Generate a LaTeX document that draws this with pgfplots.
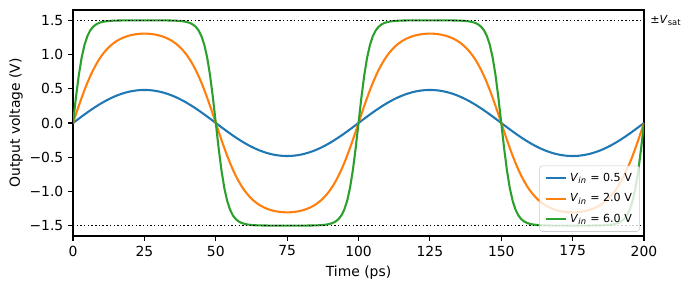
\documentclass[border=0pt]{standalone}
\usepackage{fontspec}
\setmainfont{DejaVu Sans}
\usepackage{pgfplots}
\usepackage{pgfplotstable}
\pgfplotsset{compat=1.18}

\definecolor{tabblue}{HTML}{1F77B4}
\definecolor{taborange}{HTML}{FF7F0E}
\definecolor{tabgreen}{HTML}{2CA02C}

% Output of the saturating stage, sampled every 1 ps
% columns: time (ps), output for Vin = 0.5 V, 2.0 V, 6.0 V
\pgfplotstableread{
t vb vo vg
0 0 0 0
1 0.0314 0.1253 0.3690
2 0.0626 0.2484 0.6947
3 0.0936 0.3672 0.9523
4 0.1241 0.4800 1.1391
5 0.1540 0.5853 1.2665
6 0.1832 0.6823 1.3501
7 0.2115 0.7705 1.4037
8 0.2388 0.8497 1.4377
9 0.2651 0.9202 1.4593
10 0.2902 0.9823 1.4730
11 0.3140 1.0365 1.4818
12 0.3365 1.0837 1.4875
13 0.3575 1.1243 1.4912
14 0.3770 1.1593 1.4937
15 0.3950 1.1895 1.4954
16 0.4114 1.2144 1.4965
17 0.4261 1.2356 1.4973
18 0.4392 1.2534 1.4978
19 0.4506 1.2681 1.4982
20 0.4602 1.2799 1.4985
21 0.4681 1.2893 1.4987
22 0.4743 1.2962 1.4988
23 0.4787 1.3011 1.4989
24 0.4814 1.3041 1.4990
25 0.4823 1.3051 1.4990
26 0.4814 1.3041 1.4990
27 0.4787 1.3011 1.4989
28 0.4743 1.2962 1.4988
29 0.4681 1.2893 1.4987
30 0.4602 1.2799 1.4985
31 0.4506 1.2681 1.4982
32 0.4392 1.2534 1.4978
33 0.4261 1.2356 1.4973
34 0.4114 1.2144 1.4965
35 0.3950 1.1895 1.4954
36 0.3770 1.1593 1.4937
37 0.3575 1.1243 1.4912
38 0.3365 1.0837 1.4875
39 0.3140 1.0365 1.4818
40 0.2902 0.9823 1.4730
41 0.2651 0.9202 1.4593
42 0.2388 0.8497 1.4377
43 0.2115 0.7705 1.4037
44 0.1832 0.6823 1.3501
45 0.1540 0.5853 1.2665
46 0.1241 0.4800 1.1391
47 0.0936 0.3672 0.9523
48 0.0626 0.2484 0.6947
49 0.0314 0.1253 0.3690
50 0 0 0
51 -0.0314 -0.1253 -0.3690
52 -0.0626 -0.2484 -0.6947
53 -0.0936 -0.3672 -0.9523
54 -0.1241 -0.4800 -1.1391
55 -0.1540 -0.5853 -1.2665
56 -0.1832 -0.6823 -1.3501
57 -0.2115 -0.7705 -1.4037
58 -0.2388 -0.8497 -1.4377
59 -0.2651 -0.9202 -1.4593
60 -0.2902 -0.9823 -1.4730
61 -0.3140 -1.0365 -1.4818
62 -0.3365 -1.0837 -1.4875
63 -0.3575 -1.1243 -1.4912
64 -0.3770 -1.1593 -1.4937
65 -0.3950 -1.1895 -1.4954
66 -0.4114 -1.2144 -1.4965
67 -0.4261 -1.2356 -1.4973
68 -0.4392 -1.2534 -1.4978
69 -0.4506 -1.2681 -1.4982
70 -0.4602 -1.2799 -1.4985
71 -0.4681 -1.2893 -1.4987
72 -0.4743 -1.2962 -1.4988
73 -0.4787 -1.3011 -1.4989
74 -0.4814 -1.3041 -1.4990
75 -0.4823 -1.3051 -1.4990
76 -0.4814 -1.3041 -1.4990
77 -0.4787 -1.3011 -1.4989
78 -0.4743 -1.2962 -1.4988
79 -0.4681 -1.2893 -1.4987
80 -0.4602 -1.2799 -1.4985
81 -0.4506 -1.2681 -1.4982
82 -0.4392 -1.2534 -1.4978
83 -0.4261 -1.2356 -1.4973
84 -0.4114 -1.2144 -1.4965
85 -0.3950 -1.1895 -1.4954
86 -0.3770 -1.1593 -1.4937
87 -0.3575 -1.1243 -1.4912
88 -0.3365 -1.0837 -1.4875
89 -0.3140 -1.0365 -1.4818
90 -0.2902 -0.9823 -1.4730
91 -0.2651 -0.9202 -1.4593
92 -0.2388 -0.8497 -1.4377
93 -0.2115 -0.7705 -1.4037
94 -0.1832 -0.6823 -1.3501
95 -0.1540 -0.5853 -1.2665
96 -0.1241 -0.4800 -1.1391
97 -0.0936 -0.3672 -0.9523
98 -0.0626 -0.2484 -0.6947
99 -0.0314 -0.1253 -0.3690
100 0 0 0
101 0.0314 0.1253 0.3690
102 0.0626 0.2484 0.6947
103 0.0936 0.3672 0.9523
104 0.1241 0.4800 1.1391
105 0.1540 0.5853 1.2665
106 0.1832 0.6823 1.3501
107 0.2115 0.7705 1.4037
108 0.2388 0.8497 1.4377
109 0.2651 0.9202 1.4593
110 0.2902 0.9823 1.4730
111 0.3140 1.0365 1.4818
112 0.3365 1.0837 1.4875
113 0.3575 1.1243 1.4912
114 0.3770 1.1593 1.4937
115 0.3950 1.1895 1.4954
116 0.4114 1.2144 1.4965
117 0.4261 1.2356 1.4973
118 0.4392 1.2534 1.4978
119 0.4506 1.2681 1.4982
120 0.4602 1.2799 1.4985
121 0.4681 1.2893 1.4987
122 0.4743 1.2962 1.4988
123 0.4787 1.3011 1.4989
124 0.4814 1.3041 1.4990
125 0.4823 1.3051 1.4990
126 0.4814 1.3041 1.4990
127 0.4787 1.3011 1.4989
128 0.4743 1.2962 1.4988
129 0.4681 1.2893 1.4987
130 0.4602 1.2799 1.4985
131 0.4506 1.2681 1.4982
132 0.4392 1.2534 1.4978
133 0.4261 1.2356 1.4973
134 0.4114 1.2144 1.4965
135 0.3950 1.1895 1.4954
136 0.3770 1.1593 1.4937
137 0.3575 1.1243 1.4912
138 0.3365 1.0837 1.4875
139 0.3140 1.0365 1.4818
140 0.2902 0.9823 1.4730
141 0.2651 0.9202 1.4593
142 0.2388 0.8497 1.4377
143 0.2115 0.7705 1.4037
144 0.1832 0.6823 1.3501
145 0.1540 0.5853 1.2665
146 0.1241 0.4800 1.1391
147 0.0936 0.3672 0.9523
148 0.0626 0.2484 0.6947
149 0.0314 0.1253 0.3690
150 0 0 0
151 -0.0314 -0.1253 -0.3690
152 -0.0626 -0.2484 -0.6947
153 -0.0936 -0.3672 -0.9523
154 -0.1241 -0.4800 -1.1391
155 -0.1540 -0.5853 -1.2665
156 -0.1832 -0.6823 -1.3501
157 -0.2115 -0.7705 -1.4037
158 -0.2388 -0.8497 -1.4377
159 -0.2651 -0.9202 -1.4593
160 -0.2902 -0.9823 -1.4730
161 -0.3140 -1.0365 -1.4818
162 -0.3365 -1.0837 -1.4875
163 -0.3575 -1.1243 -1.4912
164 -0.3770 -1.1593 -1.4937
165 -0.3950 -1.1895 -1.4954
166 -0.4114 -1.2144 -1.4965
167 -0.4261 -1.2356 -1.4973
168 -0.4392 -1.2534 -1.4978
169 -0.4506 -1.2681 -1.4982
170 -0.4602 -1.2799 -1.4985
171 -0.4681 -1.2893 -1.4987
172 -0.4743 -1.2962 -1.4988
173 -0.4787 -1.3011 -1.4989
174 -0.4814 -1.3041 -1.4990
175 -0.4823 -1.3051 -1.4990
176 -0.4814 -1.3041 -1.4990
177 -0.4787 -1.3011 -1.4989
178 -0.4743 -1.2962 -1.4988
179 -0.4681 -1.2893 -1.4987
180 -0.4602 -1.2799 -1.4985
181 -0.4506 -1.2681 -1.4982
182 -0.4392 -1.2534 -1.4978
183 -0.4261 -1.2356 -1.4973
184 -0.4114 -1.2144 -1.4965
185 -0.3950 -1.1895 -1.4954
186 -0.3770 -1.1593 -1.4937
187 -0.3575 -1.1243 -1.4912
188 -0.3365 -1.0837 -1.4875
189 -0.3140 -1.0365 -1.4818
190 -0.2902 -0.9823 -1.4730
191 -0.2651 -0.9202 -1.4593
192 -0.2388 -0.8497 -1.4377
193 -0.2115 -0.7705 -1.4037
194 -0.1832 -0.6823 -1.3501
195 -0.1540 -0.5853 -1.2665
196 -0.1241 -0.4800 -1.1391
197 -0.0936 -0.3672 -0.9523
198 -0.0626 -0.2484 -0.6947
199 -0.0314 -0.1253 -0.3690
200 0 0 0
}\waves

\newcommand{\vin}{\textit{V}\textsubscript{\textit{in}}}

\begin{document}
\begin{tikzpicture}
\begin{axis}[
  name=ax,
  scale only axis,
  width=411.1pt, height=162.7pt,
  xmin=0, xmax=200,
  ymin=-1.65, ymax=1.65,
  xtick={0,25,50,75,100,125,150,175,200},
  xticklabels={0,25,50,75,100,125,150,175,200},
  ytick={-1.5,-1,-0.5,0,0.5,1,1.5},
  yticklabels={−1.5,−1.0,−0.5,0.0,0.5,1.0,1.5},
  tick align=outside,
  tick pos=left,
  major tick length=3.5pt,
  every tick/.style={black, line width=0.8pt},
  axis line style={line width=0.8pt},
  font=\fontsize{10}{12}\selectfont,
  ticklabel style={font=\fontsize{10}{12}\selectfont},
  xlabel={Time (ps)},
  ylabel={Output voltage (V)},
  ylabel style={yshift=-2pt},
  legend style={
    at={(1,0)}, anchor=south east, xshift=-3pt, yshift=3pt,
    font=\fontsize{8}{9.5}\selectfont,
    draw=black!20, rounded corners=2pt,
    fill=white, fill opacity=0.8, text opacity=1,
    inner xsep=3.5pt, inner ysep=3pt,
    row sep=3.5pt,
    cells={anchor=west},
  },
  legend image code/.code={\draw[#1] (0pt,0pt) -- (15pt,0pt);},
]
\addplot[tabblue, line width=1.5pt] table[x=t, y=vb] {\waves};
\addlegendentry{\vin{} = 0.5 V}
\addplot[taborange, line width=1.5pt] table[x=t, y=vo] {\waves};
\addlegendentry{\vin{} = 2.0 V}
\addplot[tabgreen, line width=1.5pt] table[x=t, y=vg] {\waves};
\addlegendentry{\vin{} = 6.0 V}
% saturation limits
\addplot[black, line width=1pt, dash pattern=on 1pt off 1.65pt, forget plot]
  coordinates {(0,1.5) (200,1.5)};
\addplot[black, line width=1pt, dash pattern=on 1pt off 1.65pt, forget plot]
  coordinates {(0,-1.5) (200,-1.5)};
\coordinate (sat) at (axis cs:200,1.5);
\end{axis}
\node[anchor=west, inner sep=0pt, xshift=4.3pt, font=\fontsize{8}{9.5}\selectfont]
  at (sat) {±\textit{V}\textsubscript{sat}};
\pgfresetboundingbox
\path ([shift={(-52.6pt,-38.9pt)}]ax.south west)
  rectangle ([shift={(32.4pt,7.2pt)}]ax.north east);
\end{tikzpicture}
\end{document}
